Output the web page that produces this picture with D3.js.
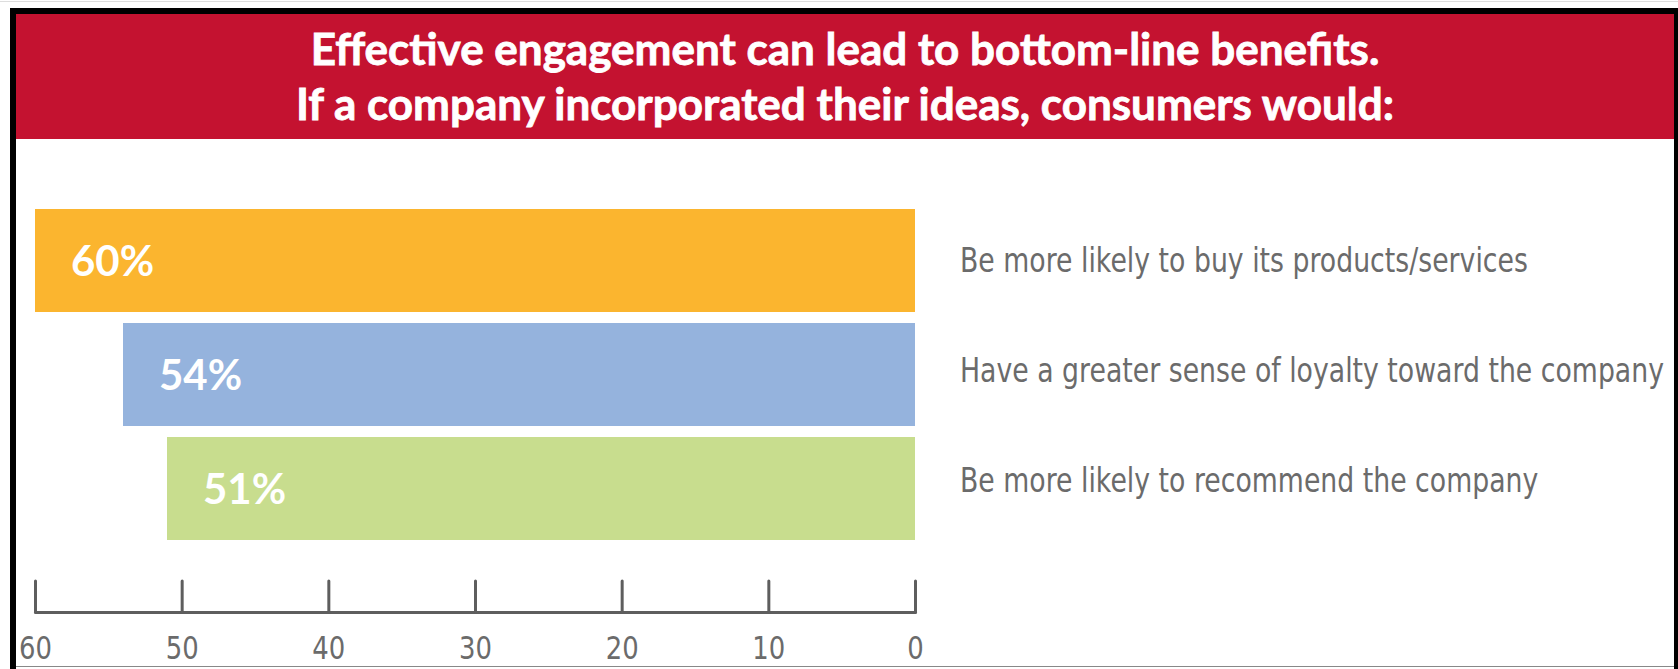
<!DOCTYPE html>
<html>
<head>
<meta charset="utf-8">
<script src="https://cdn.jsdelivr.net/npm/d3@7"></script>
<style>
    body { margin: 0; background: #fff; }
    svg { display: block; }
</style>
</head>
<body>
<svg id="chart" width="1678" height="669"></svg>
<script>
const titleLines = [
    "Effective engagement can lead to bottom-line benefits.",
    "If a company incorporated their ideas, consumers would:"
]
const categories = [
    "Be more likely to buy its products/services",
    "Have a greater sense of loyalty toward the company",
    "Be more likely to recommend the company"
]
const values = [60, 54, 51]
const barColors = ["#FBB52F", "#95B3DD", "#C8DD8E"]
const tickValues = [60, 50, 40, 30, 20, 10, 0]

const W = 1678, H = 669
const svg = d3.select("#chart")

// the original uses a condensed face, squeeze the glyphs to get close
const squeeze = 0.81

svg.append("rect").attr("width", W).attr("height", H).attr("fill", "#fff")

// red banner
svg.append("rect")
    .attr("x", 16).attr("y", 14)
    .attr("width", 1659).attr("height", 125)
    .attr("fill", "#C41230")

svg.selectAll(".title")
    .data(titleLines)
    .join("text")
    .attr("class", "title")
    .attr("x", 845)
    .attr("y", (d, i) => 65 + i * 55)
    .attr("text-anchor", "middle")
    .attr("font-family", "Lato, 'Open Sans', sans-serif")
    .attr("font-weight", "bold")
    .attr("font-size", 44)
    .attr("fill", "#fff")
    .attr("stroke", "#fff")
    .attr("stroke-width", 0.8)
    .text(d => d)

// scales
const x = d3.scaleLinear().domain([0, 60]).range([915, 35])
const y = d3.scaleBand()
    .domain(categories)
    .range([209, 540])
    .paddingInner(11 / 114)
    .paddingOuter(0)

const rows = categories.map((c, i) => ({cat: c, value: values[i], color: barColors[i]}))

svg.selectAll(".bar")
    .data(rows)
    .join("rect")
    .attr("class", "bar")
    .attr("x", d => x(d.value))
    .attr("y", d => y(d.cat))
    .attr("width", d => x(0) - x(d.value))
    .attr("height", y.bandwidth())
    .attr("fill", d => d.color)

svg.selectAll(".val")
    .data(rows)
    .join("text")
    .attr("class", "val")
    .attr("x", d => x(d.value) + 36)
    .attr("y", d => y(d.cat) + y.bandwidth() / 2)
    .attr("dy", "0.36em")
    .attr("font-family", "Lato, 'Open Sans', sans-serif")
    .attr("font-weight", "bold")
    .attr("font-size", 42)
    .attr("fill", "#fff")
    .text(d => d.value + "%")

const catText = svg.selectAll(".cat")
    .data(rows)
    .join("text")
    .attr("class", "cat")
    .attr("x", 960)
    .attr("y", (d, i) => y(d.cat) + y.bandwidth() / 2 - i * 4)
    .attr("dy", "0.36em")
    .attr("font-family", "'DejaVu Sans', sans-serif")
    .attr("font-size", 33)
    .attr("fill", "#6b6b6b")
    .text(d => d.cat)

catText.each(function () {
    const len = this.getComputedTextLength()
    d3.select(this)
        .attr("textLength", len * squeeze)
        .attr("lengthAdjust", "spacingAndGlyphs")
})

// axis, ticks pointing up
const axis = d3.axisBottom(x)
    .tickValues(tickValues)
    .tickSizeInner(-31)
    .tickSizeOuter(0)
    .tickPadding(24)

const gAxis = svg.append("g")
    .attr("transform", "translate(0,612)")
    .call(axis)

gAxis.select(".domain")
    .attr("stroke", "#5e5e5e")
    .attr("stroke-width", 3)
    .attr("stroke-linecap", "round")
gAxis.selectAll(".tick line")
    .attr("stroke", "#5e5e5e")
    .attr("stroke-width", 3)
    .attr("stroke-linecap", "round")
gAxis.selectAll(".tick text")
    .attr("font-family", "'DejaVu Sans', sans-serif")
    .attr("font-size", 32)
    .attr("fill", "#6b6b6b")
    .each(function () {
        const len = this.getComputedTextLength()
        d3.select(this)
            .attr("textLength", len * squeeze)
            .attr("lengthAdjust", "spacingAndGlyphs")
    })

// frame
svg.append("line").attr("x1", 13).attr("x2", 13).attr("y1", 8).attr("y2", H)
    .attr("stroke", "#000").attr("stroke-width", 6)
svg.append("line").attr("x1", 10).attr("x2", 1678).attr("y1", 11).attr("y2", 11)
    .attr("stroke", "#000").attr("stroke-width", 6)
svg.append("line").attr("x1", 1676).attr("x2", 1676).attr("y1", 8).attr("y2", H)
    .attr("stroke", "#000").attr("stroke-width", 4)
svg.append("line").attr("x1", 16).attr("x2", 1674).attr("y1", 666.5).attr("y2", 666.5)
    .attr("stroke", "#888").attr("stroke-width", 1)
svg.append("line").attr("x1", 0).attr("x2", W).attr("y1", 1.5).attr("y2", 1.5)
    .attr("stroke", "#ddd").attr("stroke-width", 1)
</script>
</body>
</html>
